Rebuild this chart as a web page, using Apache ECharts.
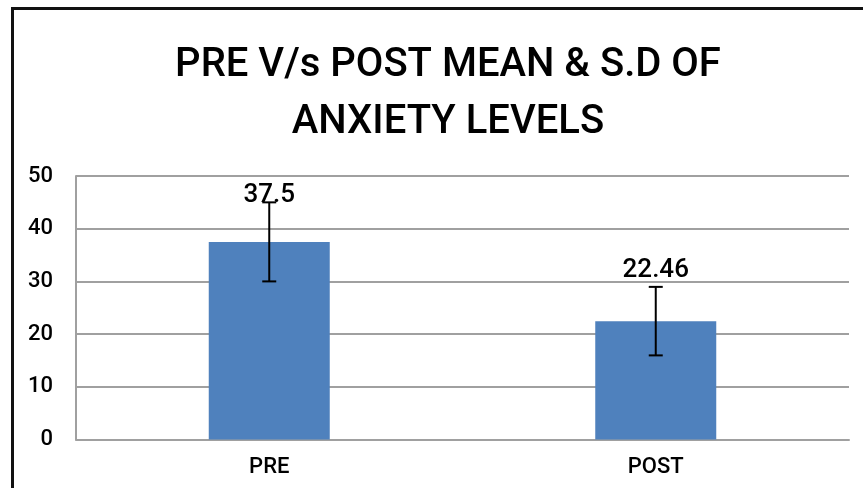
<!DOCTYPE html>
<html>
<head>
<meta charset="utf-8">
<script src="https://cdn.jsdelivr.net/npm/echarts@6/dist/echarts.min.js"></script>
<style>
html,body{margin:0;padding:0;background:#fff;}
#chart{width:863px;height:488px;}
</style>
</head>
<body>
<div id="chart"></div>
<script>
const categories = ['PRE', 'POST'];
const meanValues = [37.5, 22.46];
const sdValues = [7.5, 6.5];
const yTicks = [0, 10, 20, 30, 40, 50];

const chart = echarts.init(document.getElementById('chart'), null, {renderer: 'canvas'});

const errorData = categories.map((c, i) => [i, meanValues[i] - sdValues[i], meanValues[i] + sdValues[i]]);
const labelDistances = [33, 38];

const option = {
  backgroundColor: '#ffffff',
  animation: false,
  textStyle: {fontFamily: 'Roboto'},
  title: {
    text: 'PRE V/s POST MEAN & S.D OF\nANXIETY LEVELS',
    left: 443,
    top: 32,
    textAlign: 'center',
    textStyle: {
      fontFamily: 'Roboto',
      fontSize: 40,
      fontWeight: 500,
      color: '#000',
      lineHeight: 57
    }
  },
  graphic: [{
    type: 'rect',
    shape: {x: 12.5, y: 8.5, width: 900, height: 600},
    style: {fill: 'none', stroke: '#111', lineWidth: 3},
    silent: true,
    z: 100
  }],
  grid: {left: 76, right: 14, top: 176, bottom: 48.5, containLabel: false},
  xAxis: {
    type: 'category',
    data: categories,
    axisLine: {show: true, lineStyle: {color: '#a0a0a0', width: 2}},
    axisTick: {show: false},
    axisLabel: {fontFamily: 'Roboto', fontSize: 22, fontWeight: 500, color: '#000', margin: 17}
  },
  yAxis: {
    type: 'value',
    min: yTicks[0],
    max: yTicks[yTicks.length - 1],
    interval: 10,
    axisLine: {show: true, lineStyle: {color: '#a0a0a0', width: 2}},
    axisTick: {show: false},
    axisLabel: {fontFamily: 'Roboto', fontSize: 22, fontWeight: 500, color: '#000', margin: 23},
    splitLine: {show: true, lineStyle: {color: '#a0a0a0', width: 2}}
  },
  series: [{
    type: 'bar',
    data: meanValues.map((v, i) => ({value: v, label: {distance: labelDistances[i]}})),
    barWidth: 121,
    itemStyle: {color: '#4F81BD'},
    label: {
      show: true,
      position: 'top',
      fontFamily: 'Roboto',
      fontSize: 26,
      fontWeight: 500,
      color: '#000'
    },
    z: 2
  }, {
    type: 'custom',
    data: errorData,
    z: 5,
    renderItem: function (params, api) {
      const x = api.value(0);
      const low = api.coord([x, api.value(1)]);
      const high = api.coord([x, api.value(2)]);
      const cap = 7;
      const style = {stroke: '#000', lineWidth: 2};
      return {
        type: 'group',
        children: [
          {type: 'line', shape: {x1: high[0], y1: high[1], x2: low[0], y2: low[1]}, style: style},
          {type: 'line', shape: {x1: high[0] - cap, y1: high[1], x2: high[0] + cap, y2: high[1]}, style: style},
          {type: 'line', shape: {x1: low[0] - cap, y1: low[1], x2: low[0] + cap, y2: low[1]}, style: style}
        ]
      };
    }
  }]
};
chart.setOption(option);
</script>
</body>
</html>
